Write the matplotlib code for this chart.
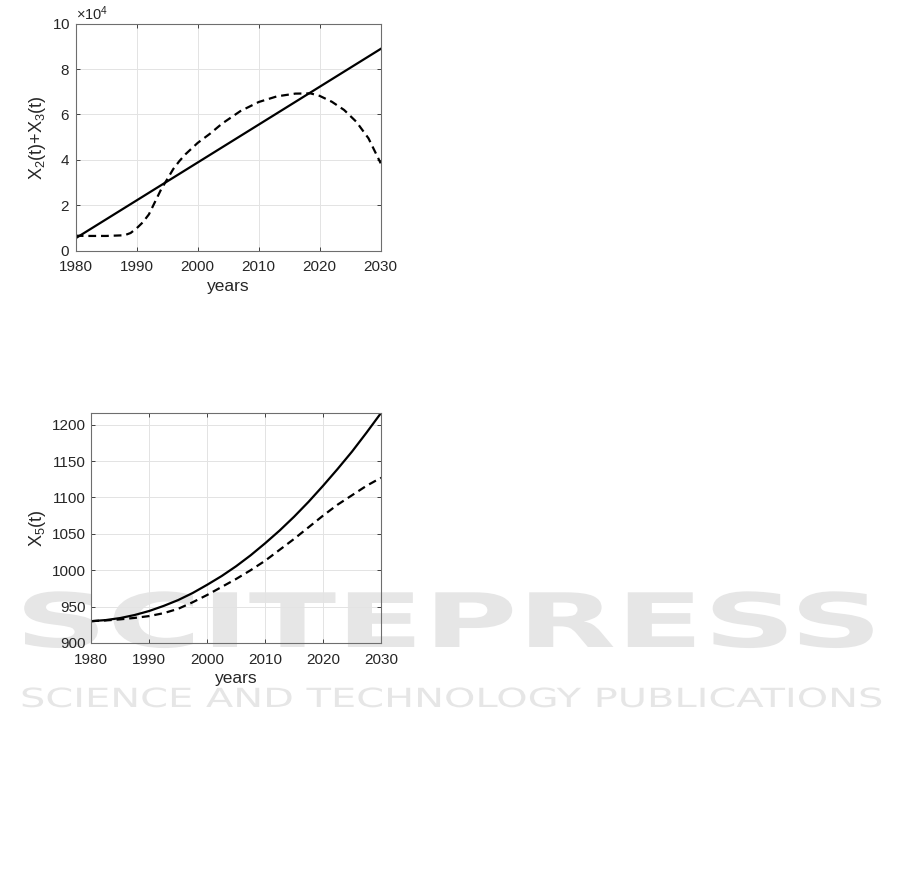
import matplotlib
matplotlib.use('Agg')
import matplotlib.pyplot as plt
from matplotlib.ticker import ScalarFormatter
from matplotlib.patheffects import AbstractPathEffect
from matplotlib.transforms import Affine2D
import numpy as np

plt.rcParams['font.family'] = ['Liberation Sans', 'DejaVu Sans']
plt.rcParams['mathtext.fontset'] = 'custom'
plt.rcParams['mathtext.rm'] = 'Liberation Sans'
plt.rcParams['mathtext.it'] = 'Liberation Sans:italic'

# top panel: X2(t)+X3(t)
years_top = [1980, 2030]
x23_model = [0.55e4, 8.89e4]
years_top_d = [1980, 1982, 1985, 1988, 1989, 1990, 1991, 1992, 1993, 1994, 1995, 1996,
               1997, 1998, 2000, 2002, 2004, 2007, 2010, 2013, 2016, 2018.5, 2020,
               2022, 2024, 2026, 2028, 2030]
x23_data = [0.66e4, 0.65e4, 0.65e4, 0.68e4, 0.78e4, 0.99e4, 1.25e4, 1.6e4, 2.15e4,
            2.7e4, 3.15e4, 3.6e4, 3.95e4, 4.25e4, 4.75e4, 5.15e4, 5.6e4, 6.15e4, 6.55e4,
            6.8e4, 6.92e4, 6.93e4, 6.82e4, 6.56e4, 6.2e4, 5.68e4, 4.95e4, 3.85e4]

# bottom panel: X5(t)
years_bot = [1980, 1982.5, 1985, 1987.5, 1990, 1992.5, 1995, 1997.5, 2000, 2002.5, 2005,
             2007.5, 2010, 2012.5, 2015, 2017.5, 2020, 2022.5, 2025, 2027.5, 2030]
x5_model = [930, 931.5, 934.3, 938.5, 944, 951, 959, 968.7, 980, 992, 1005.5, 1020.5,
            1037, 1054.5, 1073.5, 1094, 1116, 1139, 1163, 1189, 1216]
x5_data = [930, 931, 932.5, 934.5, 937, 941, 947, 956, 966, 977, 988, 1000, 1013, 1028,
           1043, 1059, 1075, 1090, 1103, 1116, 1127]

xticks = [1980, 1990, 2000, 2010, 2020, 2030]

W, H = 901, 881
fig = plt.figure(figsize=(W / 100, H / 100), dpi=100)


class Stretch(AbstractPathEffect):
    # widen glyphs horizontally about the text's left edge
    def __init__(self, sx):
        super().__init__()
        self.sx = sx

    def draw_path(self, renderer, gc, tpath, affine, rgbFace=None):
        renderer.draw_path(gc, tpath, Affine2D().scale(self.sx, 1) + affine, rgbFace)


# faint publisher watermark behind the axes
wm = '#e6e6e6'
renderer = fig.canvas.get_renderer()
for s, x0, x1, base, size, weight in [
        ('SCITEPRESS', 15, 882, 647, 54, 'bold'),
        ('SCIENCE AND TECHNOLOGY PUBLICATIONS', 20, 883, 707, 19, 'normal')]:
    t = fig.text(x0 / W, 1 - base / H, s, fontsize=size, fontweight=weight,
                 family='DejaVu Sans', color=wm, ha='left', va='baseline', zorder=-5)
    width = t.get_window_extent(renderer).width
    t.set_path_effects([Stretch((x1 - x0) / width)])


def style(ax):
    ax.set_facecolor('none')
    ax.set_xlim(1980, 2030)
    ax.set_xticks(xticks)
    ax.grid(True, color='#e3e3e3', linewidth=0.7)
    ax.set_axisbelow(True)
    ax.tick_params(direction='in', top=True, right=True, length=3, width=0.6,
                   colors='#262626', labelsize=11)
    ax.tick_params(axis='x', pad=7)
    ax.tick_params(axis='y', pad=4)
    for sp in ax.spines.values():
        sp.set_color('#6e6e6e')
        sp.set_linewidth(0.8)
    ax.set_xlabel('years', fontsize=12.5, color='#262626', labelpad=3)


ax1 = fig.add_axes([75.7 / W, 1 - 250.7 / H, 305 / W, 227 / H])
ax1.plot(years_top, x23_model, color='k', lw=1.6)
ax1.plot(years_top_d, x23_data, color='k', lw=1.6, ls=(0, (3.5, 2.2)))
ax1.set_ylim(0, 1e5)
ax1.set_yticks(np.arange(0, 1.01e5, 2e4))
fmt = ScalarFormatter(useMathText=True)
fmt.set_powerlimits((4, 4))
ax1.yaxis.set_major_formatter(fmt)
style(ax1)
ax1.yaxis.get_offset_text().set_fontsize(10.5)
ax1.yaxis.get_offset_text().set_color('#262626')
ax1.set_ylabel(r'X$_2$(t)+X$_3$(t)', fontsize=13, color='#262626', labelpad=3)

ax2 = fig.add_axes([91.3 / W, 1 - 643 / H, 289.7 / W, 230 / H])
ax2.plot(years_bot, x5_model, color='k', lw=1.6)
ax2.plot(years_bot, x5_data, color='k', lw=1.6, ls=(0, (3.5, 2.2)))
ax2.set_ylim(900, 1216)
ax2.set_yticks(np.arange(900, 1201, 50))
style(ax2)
ax2.set_ylabel(r'X$_5$(t)', fontsize=13, color='#262626', labelpad=3)

fig.savefig('out.png', dpi=100)
